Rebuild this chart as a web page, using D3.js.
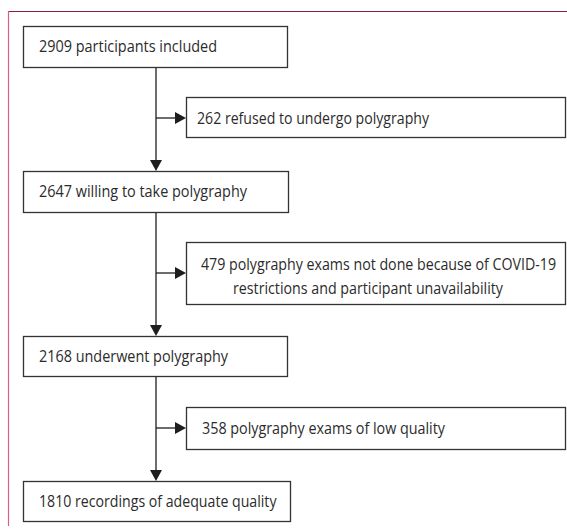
<!DOCTYPE html>
<html>
<head>
<meta charset="utf-8">
<script src="https://cdn.jsdelivr.net/npm/d3@7"></script>
<style>
  html, body { margin: 0; padding: 0; background: #fff; }
  svg { display: block; }
</style>
</head>
<body>
<svg id="chart" width="567" height="532"></svg>
<script>
// ---- data ----
const stepCounts = [2909, 2647, 2168, 1810];
const stepLabels = ["participants included", "willing to take polygraphy", "underwent polygraphy", "recordings of adequate quality"];
const exclusionCounts = [262, 479, 358];
const exclusionLabels = [
  ["refused to undergo polygraphy"],
  ["polygraphy exams not done because of COVID-19", "restrictions and participant unavailability"],
  ["polygraphy exams of low quality"]
];

// ---- layout ----
const svg = d3.select("#chart");
const W = 567, H = 532;
const textColor = "#2b2b2b";
const lineColor = "#1e1e1e";
const font = "'Open Sans', 'Noto Sans', sans-serif";

// frame
svg.append("line").attr("x1", 8.5).attr("x2", W).attr("y1", 11.5).attr("y2", 11.5)
  .attr("stroke", "#8c1c3c").attr("stroke-width", 1.2);
svg.append("line").attr("x1", 8.5).attr("x2", 8.5).attr("y1", 11).attr("y2", 526)
  .attr("stroke", "#d9607f").attr("stroke-width", 1.2);

// step boxes
const stepBoxes = [
  {x: 23, y: 26, w: 264, h: 41, tx: 39, ty: 51.5, tw: 178},
  {x: 23, y: 171, w: 265, h: 41, tx: 39, ty: 197, tw: 208},
  {x: 23, y: 336, w: 264, h: 40, tx: 39, ty: 361.5, tw: 189},
  {x: 23, y: 481, w: 267, h: 40, tx: 39, ty: 507, tw: 237.5}
];
const exBoxes = [
  {x: 186, y: 97, w: 379, h: 40, lines: [{tx: 197, ty: 123.5, tw: 232}]},
  {x: 186, y: 242, w: 379, h: 62, lines: [{tx: 201, ty: 269.5, tw: 355}, {tx: 233, ty: 293.5, tw: 270}]},
  {x: 186, y: 407, w: 379, h: 42, lines: [{tx: 202, ty: 433.5, tw: 243}]}
];
const spineX = 156;
const arrowYs = [118, 273, 428];

// spine lines between step boxes
for (let i = 0; i < stepBoxes.length - 1; i++) {
  const a = stepBoxes[i], b = stepBoxes[i + 1];
  svg.append("line").attr("x1", spineX).attr("x2", spineX)
    .attr("y1", a.y + a.h).attr("y2", b.y - 10)
    .attr("stroke", lineColor).attr("stroke-width", 1.3);
  svg.append("path")
    .attr("d", d3.line()([[spineX - 6, b.y - 11], [spineX + 6, b.y - 11], [spineX, b.y]]) + "Z")
    .attr("fill", lineColor);
  const e = exBoxes[i];
  const ay = arrowYs[i];
  svg.append("line").attr("x1", spineX).attr("x2", e.x - 10)
    .attr("y1", ay).attr("y2", ay)
    .attr("stroke", lineColor).attr("stroke-width", 1.3);
  svg.append("path")
    .attr("d", d3.line()([[e.x - 11, ay - 6], [e.x - 11, ay + 6], [e.x, ay]]) + "Z")
    .attr("fill", lineColor);
}

function drawBox(b) {
  svg.append("rect").attr("x", b.x + 0.5).attr("y", b.y + 0.5)
    .attr("width", b.w).attr("height", b.h)
    .attr("fill", "#fff").attr("stroke", "#333").attr("stroke-width", 1.3);
}
function drawText(str, tx, ty, tw) {
  svg.append("text").attr("x", tx).attr("y", ty)
    .attr("font-family", font).attr("font-size", 16)
    .attr("fill", textColor)
    .attr("textLength", tw).attr("lengthAdjust", "spacingAndGlyphs")
    .text(str);
}

stepBoxes.forEach((b, i) => {
  drawBox(b);
  drawText(stepCounts[i] + " " + stepLabels[i], b.tx, b.ty, b.tw);
});
exBoxes.forEach((b, i) => {
  drawBox(b);
  exclusionLabels[i].forEach((ln, j) => {
    const str = (j === 0 ? exclusionCounts[i] + " " : "") + ln;
    drawText(str, b.lines[j].tx, b.lines[j].ty, b.lines[j].tw);
  });
});
</script>
</body>
</html>
